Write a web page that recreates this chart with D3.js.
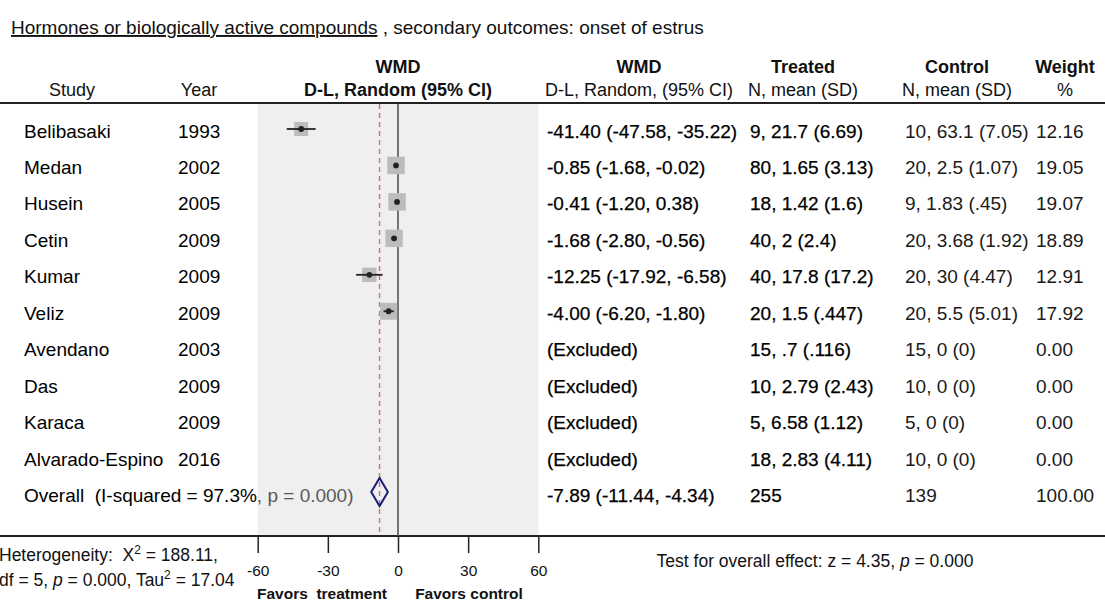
<!DOCTYPE html>
<html>
<head>
<meta charset="utf-8">
<script src="https://cdn.jsdelivr.net/npm/d3@7"></script>
<style>
  html, body { margin: 0; padding: 0; background: #fff; }
  svg { display: block; font-family: "Liberation Sans", Arial, Helvetica, sans-serif; }
  text { white-space: pre; }
</style>
</head>
<body>
<svg id="chart" width="1105" height="602"></svg>
<script>
// ---- data -------------------------------------------------------------
const studies  = ["Belibasaki", "Medan", "Husein", "Cetin", "Kumar", "Veliz",
                  "Avendano", "Das", "Karaca", "Alvarado-Espino"];
const years    = ["1993", "2002", "2005", "2009", "2009", "2009",
                  "2003", "2009", "2009", "2016"];
const wmd      = [-41.40, -0.85, -0.41, -1.68, -12.25, -4.00, null, null, null, null];
const ciLow    = [-47.58, -1.68, -1.20, -2.80, -17.92, -6.20, null, null, null, null];
const ciHigh   = [-35.22, -0.02,  0.38, -0.56,  -6.58, -1.80, null, null, null, null];
const treated  = ["9, 21.7 (6.69)", "80, 1.65 (3.13)", "18, 1.42 (1.6)", "40, 2 (2.4)",
                  "40, 17.8 (17.2)", "20, 1.5 (.447)", "15, .7 (.116)", "10, 2.79 (2.43)",
                  "5, 6.58 (1.12)", "18, 2.83 (4.11)"];
const control  = ["10, 63.1 (7.05)", "20, 2.5 (1.07)", "9, 1.83 (.45)", "20, 3.68 (1.92)",
                  "20, 30 (4.47)", "20, 5.5 (5.01)", "15, 0 (0)", "10, 0 (0)",
                  "5, 0 (0)", "10, 0 (0)"];
const weights  = [12.16, 19.05, 19.07, 18.89, 12.91, 17.92, 0, 0, 0, 0];

const overallEst = -7.89, overallLow = -11.44, overallHigh = -4.34;
const overallTreatedN = "255", overallControlN = "139", overallWeight = 100.00;
const overallLabel = "Overall  (I-squared = 97.3%, p = 0.000)";

const xTicks = [-60, -30, 0, 30, 60];

// ---- layout -----------------------------------------------------------
const svg = d3.select("#chart");
const W = 1105;
const plotTop = 104, plotBottom = 536;
const x = d3.scaleLinear().domain([-60, 60]).range([257.7, 538.3]);
const y = d3.scaleLinear().domain([0, 10]).range([129, 493.5]);

// plain hyphen-minus for negative numbers
const locale = d3.formatLocale({ decimal: ".", thousands: ",", grouping: [3], currency: ["", ""], minus: "-" });
const fmt = locale.format(".2f");
const fmtTick = locale.format("d");

const col = { study: 24, year: 178, wmd: 547, treated: 750, control: 905, weight: 1036 };
const rowFont = 19, headFont = 18;

// title
const title = svg.append("text").attr("x", 11).attr("y", 34)
  .attr("font-size", 19).attr("fill", "#111");
title.append("tspan").attr("text-decoration", "underline")
  .text("Hormones or biologically active compounds");
title.append("tspan").text(" , secondary outcomes: onset of estrus");

// column headers
const head = svg.append("g").attr("font-size", headFont).attr("fill", "#111");
function headText(cx, yy, t, bold) {
  head.append("text").attr("x", cx).attr("y", yy).attr("text-anchor", "middle")
    .attr("font-weight", bold ? "bold" : "normal").text(t);
}
headText(72, 95.5, "Study", false);
headText(199, 95.5, "Year", false);
headText(x(0), 73, "WMD", true);
headText(x(0), 95.5, "D-L, Random (95% CI)", true);
headText(639, 73, "WMD", true);
headText(639, 95.5, "D-L, Random, (95% CI)", false);
headText(803, 73, "Treated", true);
headText(803, 95.5, "N, mean (SD)", false);
headText(957, 73, "Control", true);
headText(957, 95.5, "N, mean (SD)", false);
headText(1065, 73, "Weight", true);
headText(1065, 95.5, "%", false);

// study rows
const rows = svg.append("g").attr("font-size", rowFont);
function heavy(sel) { return sel.attr("fill", "#000").attr("stroke", "#000").attr("stroke-width", 0.25); }
studies.forEach((s, i) => {
  const by = y(i) + 8.5;
  rows.append("text").attr("x", col.study).attr("y", by).attr("fill", "#000").text(s);
  rows.append("text").attr("x", col.year).attr("y", by).attr("fill", "#000").text(years[i]);
  const lab = wmd[i] == null ? "(Excluded)"
    : `${fmt(wmd[i])} (${fmt(ciLow[i])}, ${fmt(ciHigh[i])})`;
  heavy(rows.append("text").attr("x", col.wmd).attr("y", by)).text(lab);
  heavy(rows.append("text").attr("x", col.treated).attr("y", by)).text(treated[i]);
  rows.append("text").attr("x", col.control).attr("y", by).attr("fill", "#1a1a1a").text(control[i]);
  rows.append("text").attr("x", col.weight).attr("y", by).attr("fill", "#1a1a1a").text(fmt(weights[i]));
});

// overall row
const oy = y(10) + 8.5;
rows.append("text").attr("x", col.study).attr("y", oy).attr("fill", "#000").text(overallLabel);
heavy(rows.append("text").attr("x", col.wmd).attr("y", oy))
  .text(`${fmt(overallEst)} (${fmt(overallLow)}, ${fmt(overallHigh)})`);
heavy(rows.append("text").attr("x", col.treated).attr("y", oy)).text(overallTreatedN);
rows.append("text").attr("x", col.control).attr("y", oy).attr("fill", "#1a1a1a").text(overallControlN);
rows.append("text").attr("x", col.weight).attr("y", oy).attr("fill", "#1a1a1a").text(fmt(overallWeight));

// shaded plot panel (drawn translucent so the overall label dims beneath it)
svg.append("rect")
  .attr("x", x(-60)).attr("y", plotTop)
  .attr("width", x(60) - x(-60)).attr("height", plotBottom - plotTop)
  .attr("fill", "#d6d6d6").attr("fill-opacity", 0.4);

// rules
svg.append("line").attr("x1", 0).attr("x2", W).attr("y1", 103).attr("y2", 103)
  .attr("stroke", "#222").attr("stroke-width", 2);
svg.append("line").attr("x1", 0).attr("x2", W).attr("y1", plotBottom).attr("y2", plotBottom)
  .attr("stroke", "#222").attr("stroke-width", 2);

// no-effect line
svg.append("line").attr("x1", x(0)).attr("x2", x(0)).attr("y1", plotTop).attr("y2", plotBottom)
  .attr("stroke", "#555").attr("stroke-width", 1.6);

// pooled-estimate line
svg.append("line").attr("x1", x(overallEst)).attr("x2", x(overallEst))
  .attr("y1", plotTop).attr("y2", plotBottom)
  .attr("stroke", "#c47c80").attr("stroke-width", 1.5).attr("stroke-dasharray", "5,4");

// study markers
const included = studies.map((s, i) => i).filter(i => wmd[i] != null);
const marks = svg.append("g");
marks.selectAll("rect.box").data(included).join("rect")
  .attr("class", "box")
  .attr("x", i => x(wmd[i]) - 2 * Math.sqrt(weights[i]))
  .attr("y", i => y(i) - 2 * Math.sqrt(weights[i]))
  .attr("width", i => 4 * Math.sqrt(weights[i]))
  .attr("height", i => 4 * Math.sqrt(weights[i]))
  .attr("fill", "#bcbcbc");
marks.selectAll("line.ci").data(included).join("line")
  .attr("class", "ci")
  .attr("x1", i => x(ciLow[i])).attr("x2", i => x(ciHigh[i]))
  .attr("y1", i => y(i)).attr("y2", i => y(i))
  .attr("stroke", "#222").attr("stroke-width", 1.8);
marks.selectAll("circle.pt").data(included).join("circle")
  .attr("class", "pt")
  .attr("cx", i => x(wmd[i])).attr("cy", i => y(i)).attr("r", 2.9)
  .attr("fill", "#222");

// pooled diamond
const dy = y(10) - 1.5, dh = 14;
svg.append("path")
  .attr("d", `M${x(overallLow)},${dy} L${x(overallEst)},${dy - dh} L${x(overallHigh)},${dy} L${x(overallEst)},${dy + dh} Z`)
  .attr("fill", "none").attr("stroke", "#1c1c7a").attr("stroke-width", 2);

// x axis
const axis = svg.append("g").attr("transform", `translate(0,${plotBottom})`)
  .call(d3.axisBottom(x).tickValues(xTicks).tickSize(17).tickFormat(fmtTick));
axis.select(".domain").remove();
axis.selectAll(".tick line").attr("stroke", "#222").attr("stroke-width", 1.5);
axis.selectAll(".tick text")
  .attr("font-family", "Liberation Sans, Arial, sans-serif")
  .attr("font-size", 15.5).attr("fill", "#111").attr("dy", null).attr("y", 40);

svg.append("text").attr("x", 322).attr("y", 599).attr("text-anchor", "middle")
  .attr("font-size", 15.5).attr("font-weight", "bold").attr("fill", "#111")
  .text("Favors  treatment");
svg.append("text").attr("x", 469).attr("y", 599).attr("text-anchor", "middle")
  .attr("font-size", 15.5).attr("font-weight", "bold").attr("fill", "#111")
  .text("Favors control");

// heterogeneity statistics
const het1 = svg.append("text").attr("x", -1).attr("y", 561).attr("font-size", 17.5).attr("fill", "#111");
het1.append("tspan").text("Heterogeneity:  X");
het1.append("tspan").attr("dy", -7).attr("font-size", 12).text("2");
het1.append("tspan").attr("dy", 7).text(" = 188.11,");
const het2 = svg.append("text").attr("x", -1).attr("y", 586).attr("font-size", 17.5).attr("fill", "#111");
het2.append("tspan").text("df = 5, ");
het2.append("tspan").attr("font-style", "italic").text("p");
het2.append("tspan").text(" = 0.000, Tau");
het2.append("tspan").attr("dy", -7).attr("font-size", 12).text("2");
het2.append("tspan").attr("dy", 7).text(" = 17.04");

// overall effect test
const test = svg.append("text").attr("x", 815).attr("y", 567).attr("text-anchor", "middle")
  .attr("font-size", 17.5).attr("fill", "#111");
test.append("tspan").text("Test for overall effect: z = 4.35, ");
test.append("tspan").attr("font-style", "italic").text("p");
test.append("tspan").text(" = 0.000");
</script>
</body>
</html>
